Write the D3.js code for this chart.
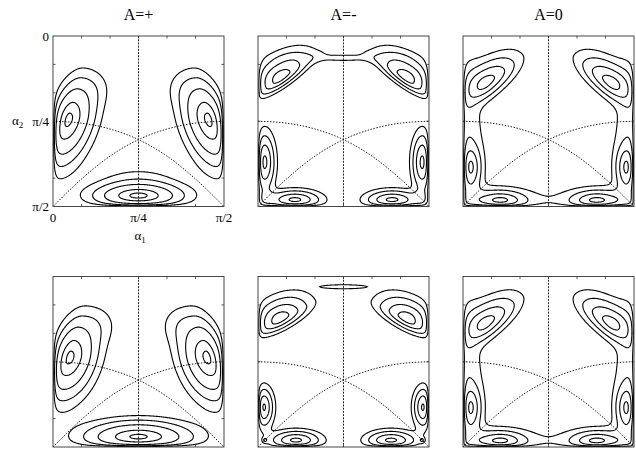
<!DOCTYPE html>
<html>
<head>
<meta charset="utf-8">
<script src="https://cdn.jsdelivr.net/npm/d3@7"></script>
<style>
  body { margin: 0; background: #fff; }
  text { font-family: "Liberation Serif", "DejaVu Serif", serif; fill: #000; }
</style>
</head>
<body>
<svg id="chart" width="636" height="449"></svg>
<script>
var titles = ["A=+", "A=-", "A=0"];
var tickDeg = [0, 15, 30, 45, 60, 75, 90];
var tickLabels = ["0", "", "", "π/4", "", "", "π/2"];

// dotted separatrix (alpha1, alpha2 in degrees)
var sepA1 = [0, 15, 30, 45, 60, 75, 90];
var sepA2 = [45, 46, 49.1, 54.7, 63.4, 75.5, 90];

// bumps of each surface, in degrees:
// [alpha1, alpha2, width left, width right, width up, width down, tilt, height]
// left half only, mirrored about alpha1 = pi/4 (bumps at 45 are not mirrored)
var peaksPlusTop = [
  [8, 44, 6, 8.5, 13.5, 16.5, 18, 1.0],
  [22, 27, 7, 7, 7, 7, 0, 0.1],
  [45, 84.6, 15, 15, 4.5, 4.5, 0, 1.0],
  [45, 75, 15, 15, 5, 5, 0, 0.15]
];
var levelsPlusTop = [0.135, 0.28, 0.5, 0.8, 0.97];

var peaksMinusTop = [
  [12, 22, 6.5, 2.8, 11.5, 9.5, 55, 1.0],
  [45, 11.5, 20, 20, 2.3, 2.3, 0, 0.155],
  [3, 66.6, 3.6, 3.6, 9.5, 9.5, 0, 1.0],
  [19.4, 86.9, 8.5, 8.5, 3.4, 3.4, 0, 1.0],
  [4, 86, 3, 3, 3, 3, 0, 0.2]
];
var levelsMinusTop = [0.13, 0.32, 0.6, 0.88];

var peaksZeroTop = [
  [12.5, 24.5, 6, 4.2, 12, 9, 52, 0.95],
  [4, 69.5, 3.5, 3.5, 7.5, 7.5, 0, 0.75],
  [20, 87.3, 8, 8, 3.5, 3.5, 0, 0.75],
  [0, 55, 7, 7, 28, 28, 0, 0.3],
  [15, 88, 18, 18, 5.5, 5.5, 0, 0.3]
];
var levelsZeroTop = [0.13, 0.32, 0.6, 0.88];

var peaksPlusBot = [
  [8.7, 42.6, 6, 9, 13.5, 15, 18, 1.0],
  [25, 25, 7, 7, 7, 7, 0, 0.12],
  [45, 85, 18, 18, 5, 5, 0, 1.0],
  [45, 77, 18, 18, 4, 4, 0, 0.1]
];
var levelsPlusBot = [0.135, 0.28, 0.5, 0.8, 0.97];

var peaksMinusBot = [
  [11.5, 22.5, 6.6, 3.2, 10.5, 9, 62, 1.0],
  [45, 5.4, 8.5, 8.5, 0.8, 0.8, 0, 0.3],
  [2.5, 69, 3.4, 3.4, 6.5, 6.5, 0, 1.0],
  [20, 86.9, 8, 8, 3.4, 3.4, 0, 1.0],
  [3.6, 86.4, 0.9, 0.9, 0.9, 0.9, 0, 0.3]
];
var levelsMinusBot = [0.13, 0.32, 0.6, 0.88];

var peaksZeroBot = peaksZeroTop;
var levelsZeroBot = levelsZeroTop;

var panels = [
  {col: 0, row: 0, peaks: peaksPlusTop, levels: levelsPlusTop},
  {col: 1, row: 0, peaks: peaksMinusTop, levels: levelsMinusTop},
  {col: 2, row: 0, peaks: peaksZeroTop, levels: levelsZeroTop},
  {col: 0, row: 1, peaks: peaksPlusBot, levels: levelsPlusBot},
  {col: 1, row: 1, peaks: peaksMinusBot, levels: levelsMinusBot},
  {col: 2, row: 1, peaks: peaksZeroBot, levels: levelsZeroBot}
];

var colX = [53, 258, 463];
var rowY = [36, 276.5];
var width = 171, height = 170.5;
var wallDepth = 1.2;
var n = 240;

var svg = d3.select("#chart");

var x = d3.scaleLinear().domain([0, 90]).range([0, width]);
var y = d3.scaleLinear().domain([0, 90]).range([0, height]);

function bump(p, a1, a2) {
  var th = p[6] * Math.PI / 180;
  var du = a1 - p[0], dv = a2 - p[1];
  var u = du * Math.cos(th) + dv * Math.sin(th);
  var v = -du * Math.sin(th) + dv * Math.cos(th);
  var su = u < 0 ? p[2] : p[3];
  var sv = v < 0 ? p[4] : p[5];
  return p[7] * Math.exp(-0.5 * (u * u / (su * su) + v * v / (sv * sv)));
}

function surface(peaks, a1, a2) {
  var s = 0;
  peaks.forEach(function(p) {
    s += bump(p, a1, a2);
    if (p[0] !== 45) s += bump(p, 90 - a1, a2);
  });
  var w = (1 - Math.exp(-a1 / wallDepth)) * (1 - Math.exp(-(90 - a1) / wallDepth)) *
          (1 - Math.exp(-a2 / wallDepth)) * (1 - Math.exp(-(90 - a2) / wallDepth));
  return s * w;
}

var grid = d3.geoPath(d3.geoTransform({
  point: function(px, py) { this.stream.point(x(px / n * 90), y(py / n * 90)); }
}));

var sepLine = d3.line()
  .x(function(d) { return x(d[0]); })
  .y(function(d) { return y(d[1]); })
  .curve(d3.curveMonotoneX);

svg.append("defs").append("clipPath").attr("id", "clip")
  .append("rect").attr("width", width).attr("height", height);

panels.forEach(function(pn, k) {
  var g = svg.append("g")
    .attr("transform", "translate(" + colX[pn.col] + "," + rowY[pn.row] + ")");

  var values = new Array(n * n);
  for (var j = 0; j < n; j++) {
    for (var i = 0; i < n; i++) {
      values[j * n + i] = surface(pn.peaks, (i + 0.5) / n * 90, (j + 0.5) / n * 90);
    }
  }
  var contours = d3.contours().size([n, n]).thresholds(pn.levels)(values);

  var inner = g.append("g").attr("clip-path", "url(#clip)");

  // guide lines
  var left = sepA1.map(function(a, i) { return [a, sepA2[i]]; });
  var right = sepA1.map(function(a, i) { return [90 - a, sepA2[i]]; }).reverse();
  [left, right].forEach(function(pts) {
    inner.append("path")
      .attr("d", sepLine(pts))
      .attr("fill", "none")
      .attr("stroke", "#222")
      .attr("stroke-width", 1)
      .attr("stroke-dasharray", "1.5,1.5");
  });
  inner.append("line")
    .attr("x1", x(45)).attr("x2", x(45))
    .attr("y1", 0).attr("y2", height)
    .attr("stroke", "#111")
    .attr("stroke-width", 0.9)
    .attr("stroke-dasharray", "2,1.2");

  inner.selectAll("path.contour")
    .data(contours)
    .enter()
    .append("path")
    .attr("class", "contour")
    .attr("d", grid)
    .attr("fill", "none")
    .attr("stroke", "#000")
    .attr("stroke-width", 1.1);

  // frame and ticks
  g.append("rect")
    .attr("width", width).attr("height", height)
    .attr("fill", "none")
    .attr("stroke", "#333")
    .attr("stroke-width", 0.9);

  tickDeg.slice(1, -1).forEach(function(t) {
    g.append("line").attr("x1", x(t)).attr("x2", x(t)).attr("y1", 0).attr("y2", 2.5);
    g.append("line").attr("x1", x(t)).attr("x2", x(t)).attr("y1", height).attr("y2", height - 2.5);
    g.append("line").attr("y1", y(t)).attr("y2", y(t)).attr("x1", 0).attr("x2", 2.5);
    g.append("line").attr("y1", y(t)).attr("y2", y(t)).attr("x1", width).attr("x2", width - 2.5);
  });
  g.selectAll("line:not([stroke])").attr("stroke", "#333").attr("stroke-width", 0.8);

  if (pn.row === 0) {
    g.append("text")
      .attr("x", width / 2)
      .attr("y", -16)
      .attr("text-anchor", "middle")
      .style("font-size", "16px")
      .text(titles[pn.col]);
  }

  if (k === 0) {
    tickDeg.forEach(function(t, i) {
      if (!tickLabels[i]) return;
      g.append("text")
        .attr("x", -4).attr("y", y(t) + 4.5)
        .attr("text-anchor", "end")
        .style("font-size", "13px")
        .text(tickLabels[i]);
      g.append("text")
        .attr("x", x(t)).attr("y", height + 15)
        .attr("text-anchor", "middle")
        .style("font-size", "13px")
        .text(tickLabels[i]);
    });
    var a2 = g.append("text").attr("x", -41).attr("y", y(45) + 4).style("font-size", "13px");
    a2.append("tspan").text("α");
    a2.append("tspan").attr("dy", 3).style("font-size", "9px").text("2");
    var a1 = g.append("text").attr("x", x(45) - 4).attr("y", height + 33).style("font-size", "13px");
    a1.append("tspan").text("α");
    a1.append("tspan").attr("dy", 3).style("font-size", "9px").text("1");
  }
});
</script>
</body>
</html>
